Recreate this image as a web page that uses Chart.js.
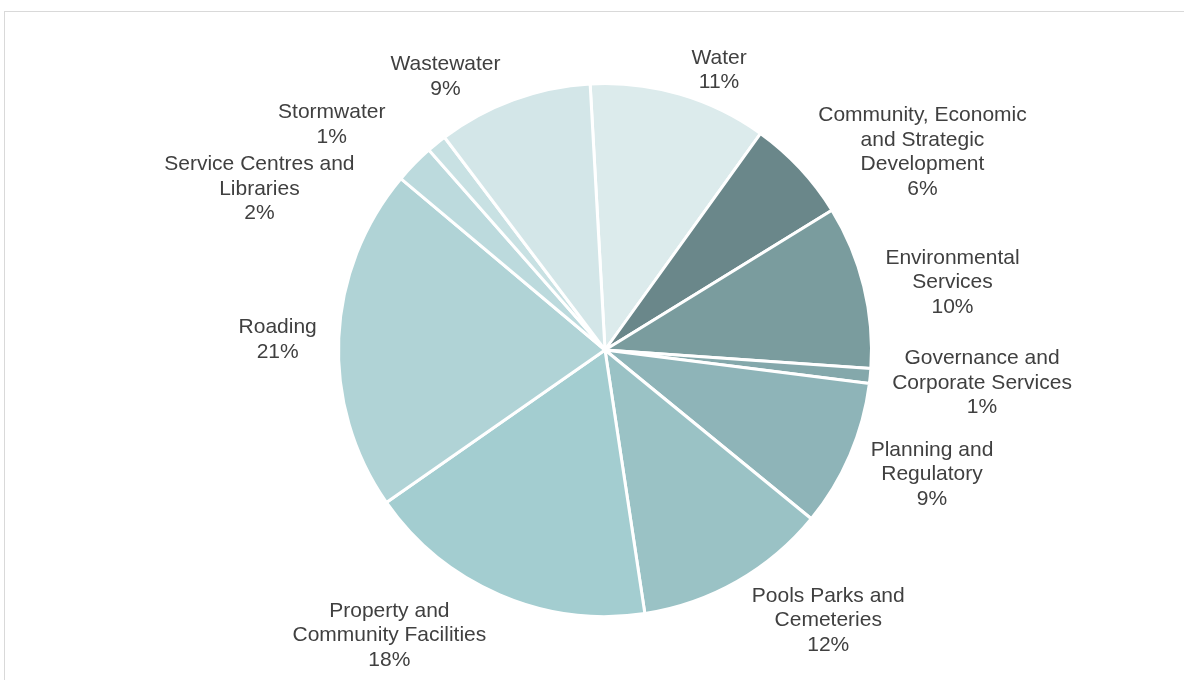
<!DOCTYPE html>
<html>
<head>
<meta charset="utf-8">
<script src="https://cdn.jsdelivr.net/npm/chart.js@4"></script>
<style>
  body { margin: 0; background: #fff; overflow: hidden; }
  #frame { position: absolute; left: 4px; top: 11px; width: 1200px; height: 700px; border: 1px solid #d9d9d9; }
  #wrap { position: absolute; left: 0; top: 0; width: 1184px; height: 680px; }
</style>
</head>
<body>
<div id="frame"></div>
<div id="wrap"><canvas id="chart_pie"></canvas></div>
<script>
// activity groups, clockwise from the top
let categories = [
  "Water",
  "Community, Economic and Strategic Development",
  "Environmental Services",
  "Governance and Corporate Services",
  "Planning and Regulatory",
  "Pools Parks and Cemeteries",
  "Property and Community Facilities",
  "Roading",
  "Service Centres and Libraries",
  "Stormwater",
  "Wastewater"
];
// share of spend, %
let shares = [10.8, 6.3, 9.9, 0.9, 8.9, 11.7, 17.7, 20.8, 2.4, 1.2, 9.4];

var sliceColors = ["#dcebec", "#6a878a", "#7a9c9e", "#84a8ab", "#8eb4b8", "#9ac2c5",
                   "#a3cdd0", "#b0d3d6", "#bcdadd", "#c8e1e3", "#d3e6e8"];

let total = shares.reduce((a, b) => a + b, 0);
let FONT = '21px "Liberation Sans", Arial, sans-serif';
let LINE_H = 24.5;

function wrapText(ctx, text, maxW) {
  let words = text.split(" ");
  let lines = [];
  let cur = "";
  words.forEach(w => {
    let t = cur ? cur + " " + w : w;
    if (cur && ctx.measureText(t).width > maxW) {
      lines.push(cur);
      cur = w;
    } else {
      cur = t;
    }
  });
  if (cur) lines.push(cur);
  return lines;
}

function clamp(v) { return Math.max(-1, Math.min(1, v)); }

// label box sits beside the rim point, pushed sideways by its own half width
function boxFor(it, gap) {
  let cs = Math.cos(it.a), sn = Math.sin(it.a);
  let px = it.cx + (it.r + gap) * cs;
  let py = it.cy + (it.r + gap) * sn;
  let x = px + clamp(4 * cs) * (it.w / 2 + 8) + it.dx;
  let y = py + sn * (sn > 0 ? 27 : 14) + 3 + it.dy;
  return {x: x, y: y, l: x - it.w / 2, r: x + it.w / 2, t: y - it.h / 2, b: y + it.h / 2};
}

function overlaps(a, b) {
  return a.l < b.r + 4 && b.l < a.r + 4 && a.t < b.b + 2 && b.t < a.b + 2;
}

// walk down one side from the top; a label that hits the one above it
// slides outwards if that is a short move, otherwise drops below it
// (and out a bit, since the rim bulges out further down)
function settle(chain, gap, dir) {
  for (let k = 1; k < chain.length; k++) {
    let prev = boxFor(chain[k - 1], gap);
    let it = chain[k];
    let b = boxFor(it, gap);
    if (!overlaps(prev, b)) continue;
    let sx = dir > 0 ? prev.r + 5 - b.l : b.r - (prev.l - 5);
    if (sx < it.w / 2) {
      it.dx += dir * sx;
    } else {
      let sy = prev.b + 3 - b.t;
      it.dy += sy;
      it.dx += dir * sy;
    }
  }
}

const outLabels = {
  id: "outLabels",
  afterDatasetsDraw(chart) {
    let ctx = chart.ctx;
    let arcs = chart.getDatasetMeta(0).data;
    ctx.save();
    ctx.font = FONT;
    let items = arcs.map((arc, i) => {
      let lines = wrapText(ctx, categories[i], 213);
      lines.push(Math.round(shares[i] / total * 100) + "%");
      let w = Math.max(...lines.map(l => ctx.measureText(l).width));
      return {lines: lines, w: w, h: lines.length * LINE_H,
              a: (arc.startAngle + arc.endAngle) / 2, dx: 0, dy: 0,
              cx: arc.x, cy: arc.y, r: arc.outerRadius};
    });
    let gap = 14;
    let right = items.filter(it => Math.cos(it.a) >= 0);
    let left = items.filter(it => Math.cos(it.a) < 0).reverse();
    settle(right, gap, 1);
    settle(left, gap, -1);
    ctx.fillStyle = "#404040";
    ctx.textAlign = "center";
    ctx.textBaseline = "middle";
    items.forEach(it => {
      let b = boxFor(it, gap);
      it.lines.forEach((l, n) => {
        ctx.fillText(l, b.x, b.t + LINE_H * (n + 0.5));
      });
    });
    ctx.restore();
  }
};

let pie_elm = document.getElementById("chart_pie").getContext("2d");
new Chart(pie_elm, {
  type: "pie",
  data: {
    labels: categories,
    datasets: [{
      data: shares,
      backgroundColor: sliceColors,
      borderColor: "#ffffff",
      borderWidth: 3,
    }]
  },
  options: {
    responsive: true,
    maintainAspectRatio: false,
    animation: false,
    rotation: -3.2,
    radius: 266.5,
    layout: { padding: { left: 26, right: 0, top: 20, bottom: 0 } },
    plugins: {
      legend: { display: false },
      tooltip: { enabled: false },
    },
  },
  plugins: [outLabels]
});
</script>
</body>
</html>
